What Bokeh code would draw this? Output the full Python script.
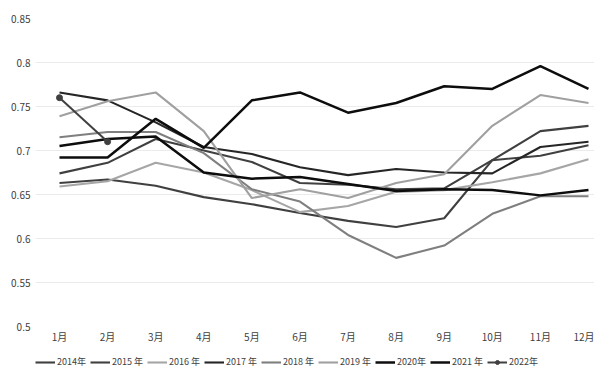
from bokeh.plotting import figure
from bokeh.layouts import column
from bokeh.models import Range1d, FixedTicker, Legend, LegendItem
from bokeh.embed import file_html
from bokeh.resources import INLINE

months = ["1月", "2月", "3月", "4月", "5月", "6月", "7月", "8月", "9月", "10月", "11月", "12月"]
month_idx = list(range(1, 13))

y_ticks = [0.5, 0.55, 0.6, 0.65, 0.7, 0.75, 0.8, 0.85]
y_tick_labels = ["0.5", "0.55", "0.6", "0.65", "0.7", "0.75", "0.8", "0.85"]

years = ["2014年", "2015 年", "2016 年", "2017 年", "2018 年", "2019 年", "2020年", "2021 年", "2022年"]

y2014 = [0.663, 0.667, 0.660, 0.647, 0.639, 0.629, 0.620, 0.613, 0.623, 0.689, 0.722, 0.728]
y2015 = [0.674, 0.686, 0.713, 0.700, 0.687, 0.663, 0.661, 0.656, 0.657, 0.689, 0.694, 0.706]
y2016 = [0.659, 0.665, 0.686, 0.675, 0.655, 0.630, 0.637, 0.653, 0.655, 0.664, 0.674, 0.690]
y2017 = [0.766, 0.757, 0.732, 0.704, 0.696, 0.681, 0.672, 0.679, 0.675, 0.674, 0.704, 0.710]
y2018 = [0.715, 0.721, 0.721, 0.697, 0.656, 0.642, 0.604, 0.578, 0.592, 0.628, 0.648, 0.648]
y2019 = [0.739, 0.756, 0.766, 0.722, 0.646, 0.656, 0.646, 0.663, 0.673, 0.728, 0.763, 0.754]
y2020 = [0.705, 0.713, 0.716, 0.675, 0.668, 0.670, 0.662, 0.654, 0.656, 0.655, 0.649, 0.655]
y2021 = [0.692, 0.692, 0.736, 0.703, 0.757, 0.766, 0.743, 0.754, 0.773, 0.770, 0.796, 0.770]
y2022 = [0.760, 0.710]

series = [y2014, y2015, y2016, y2017, y2018, y2019, y2020, y2021, y2022]
colors = ["#404040", "#404040", "#a6a6a6", "#262626", "#7f7f7f", "#a0a0a0", "#0d0d0d", "#0d0d0d", "#404040"]
widths = [2.1, 2.1, 2.1, 2.1, 2.1, 2.1, 2.5, 2.5, 2.0]

FONT = "Noto Sans CJK SC"
TXT = "#404040"

p = figure(output_backend="svg", toolbar_location=None,
           x_range=Range1d(0.501, 12.125), y_range=Range1d(0.5, 0.85),
           min_border_left=35, min_border_right=0, min_border_top=18, min_border_bottom=16)
p.frame_width = 559
p.frame_height = 308
p.outline_line_color = None
p.background_fill_color = "white"

p.xgrid.grid_line_color = None
p.ygrid.grid_line_color = "#ebebeb"
p.ygrid.grid_line_width = 1

p.xaxis.ticker = FixedTicker(ticks=month_idx)
p.xaxis.major_label_overrides = {i: m for i, m in zip(month_idx, months)}
p.yaxis.ticker = FixedTicker(ticks=y_ticks)
p.yaxis.major_label_overrides = {t: s for t, s in zip(y_ticks, y_tick_labels)}

for ax in (p.xaxis, p.yaxis):
    ax.axis_line_color = None
    ax.major_tick_line_color = None
    ax.minor_tick_line_color = None
    ax.major_tick_out = 0
    ax.major_tick_in = 0
    ax.minor_tick_out = 0
    ax.major_label_text_font = FONT
    ax.major_label_text_font_size = "10px"
    ax.major_label_text_color = TXT
p.xaxis.major_label_standoff = 2
p.yaxis.major_label_standoff = 5

for name, vals, c, w in zip(years, series, colors, widths):
    xs = month_idx[:len(vals)]
    p.line(xs, vals, line_color=c, line_width=w)
    if name == "2022年":
        p.scatter(xs, vals, size=6, marker="circle", fill_color=c, line_color=c)

# legend strip below the chart (proxy glyphs with the same styles, placed off-frame)
lg = figure(width=594, height=30, output_backend="svg", toolbar_location=None,
            x_range=Range1d(0, 1), y_range=Range1d(0, 1),
            x_axis_type=None, y_axis_type=None, min_border=0)
lg.outline_line_color = None
items = []
for name, c, w in zip(years, colors, widths):
    r = lg.line([-5, -4], [-5, -4], line_color=c, line_width=w)
    rs = [r]
    if name == "2022年":
        rs.append(lg.scatter([-5], [-5], size=6, marker="circle", fill_color=c, line_color=c))
    items.append(LegendItem(label=name, renderers=rs))

legend = Legend(items=items, orientation="horizontal", location=(0, 8),
                border_line_color=None, background_fill_alpha=0,
                label_text_font=FONT, label_text_font_size="9px", label_text_color=TXT,
                glyph_width=20, glyph_height=10, label_standoff=2, spacing=4,
                padding=0, margin=0)
lg.add_layout(legend, "center")

layout = column(p, lg, spacing=0)
open("out.html", "w").write(file_html(layout, INLINE))
